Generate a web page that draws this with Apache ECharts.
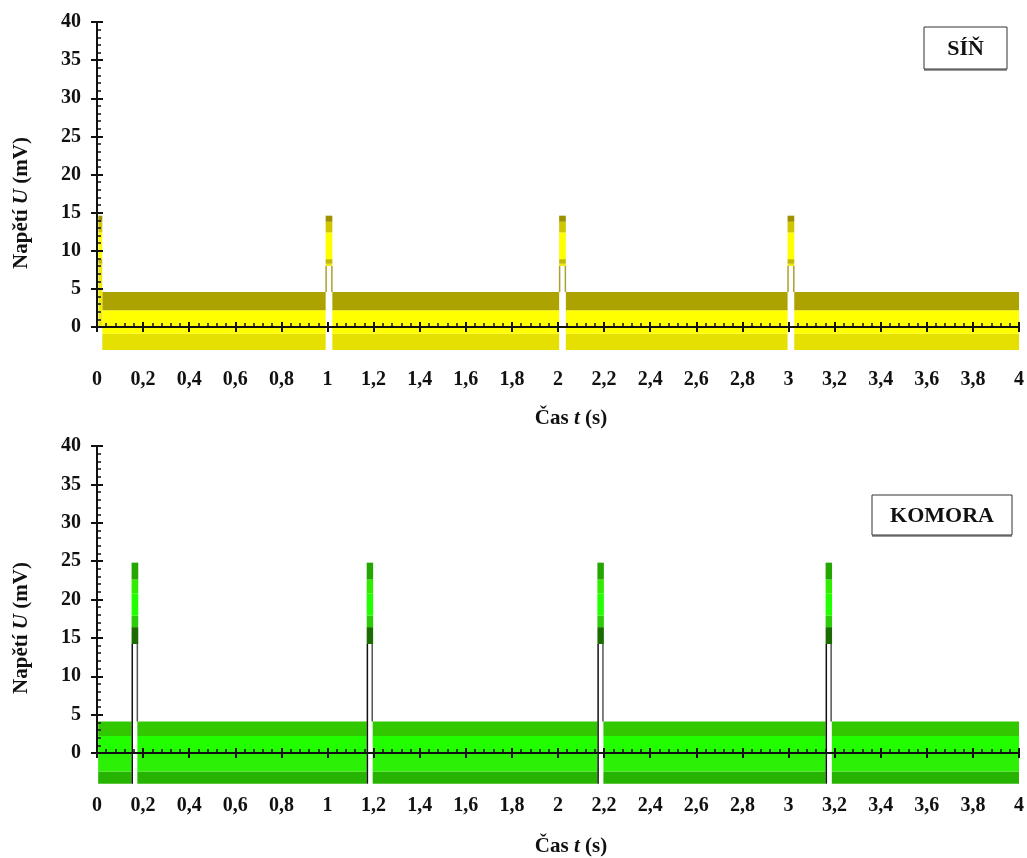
<!DOCTYPE html>
<html>
<head>
<meta charset="utf-8">
<script src="https://cdn.jsdelivr.net/npm/echarts@6/dist/echarts.min.js"></script>
<style>
html,body{margin:0;padding:0;background:#fff;}
#chart{width:1027px;height:858px;}
</style>
</head>
<body>
<div id="chart"></div>
<script>
// ---------- DATA ----------
const xTickLabels = ['0','0,2','0,4','0,6','0,8','1','1,2','1,4','1,6','1,8','2','2,2','2,4','2,6','2,8','3','3,2','3,4','3,6','3,8','4'];
const yTickLabels = ['0','5','10','15','20','25','30','35','40'];

// SÍŇ (atrium) – band of the dense signal, split by the spikes
const atriumBandSegments = [[0.023, 0.992], [1.021, 2.005], [2.034, 2.996], [3.025, 4.0]];
const atriumBandLevels = [-3.0, -0.9, 2.2, 4.6];
const atriumSpikeStart = [0.006, 0.992, 2.005, 2.996];
const atriumSpikeEnd = [0.023, 1.021, 2.034, 3.025];
const atriumSpikeBase = [0, 8.0, 8.0, 8.0];
const atriumSpikeLevels = [8.3, 8.9, 12.4, 13.8, 14.6];

// KOMORA (ventricle)
const ventBandSegments = [[0.005, 0.150], [0.175, 1.170], [1.196, 2.171], [2.197, 3.161], [3.188, 4.0]];
const ventBandLevels = [-4.0, -2.4, -0.1, 2.2, 4.1];
const ventSpikeStart = [0.150, 1.170, 2.171, 3.161];
const ventSpikeEnd = [0.179, 1.198, 2.199, 3.189];
const ventSpikeBase = [14.2, 14.2, 14.2, 14.2];
const ventSpikeLevels = [16.4, 17.9, 20.8, 22.6, 24.8];

// ---------- STYLES ----------
const atriumBandColors = ['#e6e000', '#ffff00', '#ada300'];
const atriumSpikeColors = ['#eeea10', '#c2b900', '#ffff00', '#d0c600', '#9c9200'];
const atriumEdgeColor = '#a8a030';
const ventBandColors = ['#27b400', '#2cf005', '#22fd00', '#32c800'];
const ventSpikeColors = ['#1a6c00', '#2ccc08', '#22ff00', '#30ec00', '#24a600'];
const FONT = 'Liberation Serif';

// ---------- BUILD ----------
function bandRects(segments, levels, colors) {
  const out = [];
  segments.forEach(s => {
    for (let i = 0; i < levels.length - 1; i++) {
      out.push({value: [s[0], s[1], levels[i], levels[i + 1]], itemStyle: {color: colors[i]}});
    }
  });
  return out;
}
function spikeRects(starts, ends, bases, levels, colors) {
  const out = [];
  starts.forEach((s, k) => {
    const b = [bases[k]].concat(levels);
    for (let i = 0; i < b.length - 1; i++) {
      if (b[i + 1] <= b[i]) continue;
      out.push({value: [s, ends[k], b[i], b[i + 1]], itemStyle: {color: colors[i]}});
    }
  });
  return out;
}
const atriumRects = bandRects(atriumBandSegments, atriumBandLevels, atriumBandColors)
  .concat(spikeRects(atriumSpikeStart, atriumSpikeEnd, atriumSpikeBase, atriumSpikeLevels, atriumSpikeColors));
const ventRects = bandRects(ventBandSegments, ventBandLevels, ventBandColors)
  .concat(spikeRects(ventSpikeStart, ventSpikeEnd, ventSpikeBase, ventSpikeLevels, ventSpikeColors));

// outline edges of the spikes: [x, y0, y1]
const atriumEdges = [];
atriumSpikeStart.forEach((s, k) => {
  if (atriumSpikeBase[k] <= 0) return;
  const top = atriumBandLevels[atriumBandLevels.length - 1];
  atriumEdges.push({value: [s + 0.002, top, atriumSpikeBase[k]], itemStyle: {color: atriumEdgeColor}});
  atriumEdges.push({value: [atriumSpikeEnd[k] - 0.002, top, atriumSpikeBase[k]], itemStyle: {color: atriumEdgeColor}});
});
const ventEdges = [];
ventSpikeStart.forEach((s, k) => {
  ventEdges.push({value: [s + 0.003, ventBandLevels[0], ventSpikeBase[k]], itemStyle: {color: '#111111'}});
  ventEdges.push({value: [ventSpikeEnd[k] - 0.004, ventBandLevels[ventBandLevels.length - 1], ventSpikeBase[k]], itemStyle: {color: '#555555'}});
});

function renderRect(params, api) {
  const p0 = api.coord([api.value(0), api.value(3)]);
  const p1 = api.coord([api.value(1), api.value(2)]);
  return {type: 'rect', shape: {x: p0[0], y: p0[1], width: p1[0] - p0[0], height: p1[1] - p0[1]},
    style: {fill: api.visual('color')}};
}
function renderEdge(params, api) {
  const a = api.coord([api.value(0), api.value(1)]);
  const b = api.coord([api.value(0), api.value(2)]);
  return {type: 'line', shape: {x1: a[0], y1: a[1], x2: b[0], y2: b[1]},
    style: {stroke: api.visual('color'), lineWidth: 1.5}};
}

const labelStyle = {fontFamily: FONT, fontWeight: 'bold', fontSize: 20, color: '#111'};
function xAxes(gridIndex) {
  return [
    {type: 'value', gridIndex, position: 'bottom', min: 0, max: 4, interval: 0.2, z: 10,
      axisLine: {show: true, onZero: false, lineStyle: {color: '#111', width: 2}},
      axisTick: {show: true, inside: false, length: 5, lineStyle: {color: '#111', width: 2}},
      axisLabel: Object.assign({margin: 43, formatter: v => xTickLabels[Math.round(v / 0.2)]}, labelStyle),
      splitLine: {show: false}},
    {type: 'value', gridIndex, position: 'bottom', min: 0, max: 4, interval: 0.2, z: 10,
      axisLine: {show: false, onZero: false},
      axisTick: {show: true, inside: true, length: 5, lineStyle: {color: '#111', width: 2}},
      minorTick: {show: true, splitNumber: 5, length: 4, lineStyle: {color: '#111', width: 1.5}},
      axisLabel: {show: false}, splitLine: {show: false}}
  ];
}
function yAxes(gridIndex) {
  return [
    {type: 'value', gridIndex, position: 'left', min: 0, max: 40, interval: 5, z: 10,
      axisLine: {show: true, onZero: false, lineStyle: {color: '#111', width: 2}},
      axisTick: {show: true, inside: false, length: 6, lineStyle: {color: '#111', width: 2}},
      axisLabel: Object.assign({margin: 16, formatter: v => yTickLabels[Math.round(v / 5)]}, labelStyle),
      splitLine: {show: false}},
    {type: 'value', gridIndex, position: 'left', min: 0, max: 40, interval: 5, z: 10,
      axisLine: {show: false, onZero: false},
      axisTick: {show: true, inside: true, length: 6, lineStyle: {color: '#111', width: 2}},
      minorTick: {show: true, splitNumber: 5, length: 4, lineStyle: {color: '#111', width: 1.5}},
      axisLabel: {show: false}, splitLine: {show: false}}
  ];
}

const nameRich = {
  b: {fontFamily: FONT, fontWeight: 'bold', fontSize: 21, fill: '#111'},
  i: {fontFamily: FONT, fontWeight: 'bold', fontStyle: 'italic', fontSize: 21, fill: '#111'}
};
function yName(y) {
  return {type: 'text', x: 22, y: y, rotation: Math.PI / 2, z: 20,
    style: {text: '{b|Napětí }{i|U}{b| (mV)}', rich: nameRich, align: 'center', verticalAlign: 'middle'}};
}
function xName(y) {
  return {type: 'text', x: 571, y: y, z: 20,
    style: {text: '{b|Čas }{i|t}{b| (s)}', rich: nameRich, align: 'center', verticalAlign: 'middle'}};
}
function box(x, y, w, h, label) {
  return {type: 'group', z: 20, children: [
    {type: 'rect', shape: {x: x, y: y + 2, width: w, height: h}, style: {fill: '#999'}},
    {type: 'rect', shape: {x: x, y: y, width: w, height: h}, style: {fill: '#fff', stroke: '#333', lineWidth: 1}},
    {type: 'text', x: x + w / 2, y: y + h / 2 + 1,
      style: {text: label, fontFamily: FONT, fontWeight: 'bold', fontSize: 22, fill: '#111', align: 'center', verticalAlign: 'middle'}}
  ]};
}

const chart = echarts.init(document.getElementById('chart'), null, {renderer: 'canvas'});
chart.setOption({
  backgroundColor: '#fff',
  animation: false,
  textStyle: {fontFamily: FONT},
  grid: [
    {left: 97, right: 8, top: 22, height: 305},
    {left: 97, right: 8, top: 446, height: 307}
  ],
  xAxis: xAxes(0).concat(xAxes(1)),
  yAxis: yAxes(0).concat(yAxes(1)),
  series: [
    {type: 'custom', xAxisIndex: 0, yAxisIndex: 0, z: 1, clip: false, renderItem: renderRect,
      encode: {x: [0, 1], y: [2, 3]}, data: atriumRects, silent: true},
    {type: 'custom', xAxisIndex: 0, yAxisIndex: 0, z: 2, clip: false, renderItem: renderEdge,
      encode: {x: 0, y: [1, 2]}, data: atriumEdges, silent: true},
    {type: 'custom', xAxisIndex: 2, yAxisIndex: 2, z: 1, clip: false, renderItem: renderRect,
      encode: {x: [0, 1], y: [2, 3]}, data: ventRects, silent: true},
    {type: 'custom', xAxisIndex: 2, yAxisIndex: 2, z: 2, clip: false, renderItem: renderEdge,
      encode: {x: 0, y: [1, 2]}, data: ventEdges, silent: true}
  ],
  graphic: [
    yName(203), yName(628), xName(419), xName(847),
    box(924, 27, 83, 42, 'SÍŇ'),
    box(872, 495, 140, 40, 'KOMORA')
  ]
});
</script>
</body>
</html>
